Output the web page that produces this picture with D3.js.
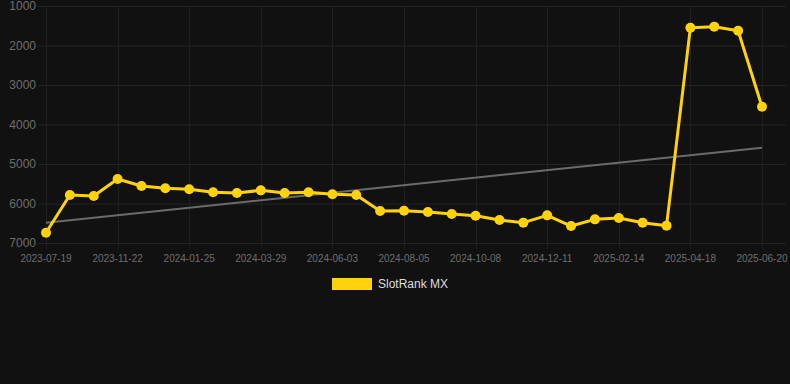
<!DOCTYPE html>
<html>
<head>
<meta charset="utf-8">
<script src="https://cdn.jsdelivr.net/npm/d3@7"></script>
<style>
  body { margin: 0; background: #111111; }
  svg { display: block; font-family: "Liberation Sans", Arial, sans-serif; }
</style>
</head>
<body>
<div id="plot"></div>
<script>
// dates on the x axis (only every third one is labelled, the rest are estimates)
var cats = ["2023-07-19","2023-08-10","2023-09-01","2023-11-22","2023-12-13","2024-01-04",
  "2024-01-25","2024-02-15","2024-03-08","2024-03-29","2024-04-19","2024-05-12",
  "2024-06-03","2024-06-24","2024-07-15","2024-08-05","2024-08-26","2024-09-16",
  "2024-10-08","2024-10-29","2024-11-19","2024-12-11","2025-01-01","2025-01-23",
  "2025-02-14","2025-03-07","2025-03-28","2025-04-18","2025-05-09","2025-05-30",
  "2025-06-20"];
// rank values
var ranks = [6740, 5785, 5810, 5380, 5557, 5616, 5641, 5717, 5734, 5667, 5734, 5717,
  5768, 5785, 6190, 6185, 6215, 6266, 6308, 6418, 6485, 6300, 6570, 6401, 6367,
  6485, 6561, 1549, 1523, 1625, 3549];
var yTicks = [1000, 2000, 3000, 4000, 5000, 6000, 7000];
var seriesName = "SlotRank MX";

var W = 790, H = 384;
var svg = d3.select("#plot").append("svg")
    .attr("width", W)
    .attr("height", H);

var xScale = d3.scalePoint().domain(cats).range([46, 762]);
var yScale = d3.scaleLinear().domain([1000, 7000]).range([6, 243]);

// horizontal grid
svg.append("g").selectAll("line")
    .data(yTicks).enter().append("line")
    .attr("x1", 38).attr("x2", 786)
    .attr("y1", function(d){ return yScale(d) + 0.5; })
    .attr("y2", function(d){ return yScale(d) + 0.5; })
    .attr("stroke", "#242424").attr("stroke-width", 1);

// vertical grid (labelled dates only)
var labelled = cats.filter(function(d, i){ return i % 3 == 0; });
svg.append("g").selectAll("line")
    .data(labelled).enter().append("line")
    .attr("x1", function(d){ return Math.round(xScale(d)) + 0.5; })
    .attr("x2", function(d){ return Math.round(xScale(d)) + 0.5; })
    .attr("y1", 6).attr("y2", 249)
    .attr("stroke", "#1f1f1f").attr("stroke-width", 1);

// y labels
svg.append("g").selectAll("text")
    .data(yTicks).enter().append("text")
    .attr("x", 36)
    .attr("y", function(d){ return yScale(d); })
    .attr("dy", "0.35em")
    .attr("text-anchor", "end")
    .attr("fill", "#6e6e6e")
    .style("font-size", "12px")
    .text(function(d){ return d; });

// x labels
svg.append("g").selectAll("text")
    .data(labelled).enter().append("text")
    .attr("x", function(d){ return xScale(d); })
    .attr("y", 262)
    .attr("text-anchor", "middle")
    .attr("fill", "#6e6e6e")
    .style("font-size", "10px")
    .text(function(d){ return d; });

// trend line (least squares)
var n = ranks.length, mx = (n - 1) / 2, my = d3.mean(ranks), sxy = 0, sxx = 0;
ranks.forEach(function(v, i){ sxy += (i - mx) * (v - my); sxx += (i - mx) * (i - mx); });
var slope = sxy / sxx, icpt = my - slope * mx;
svg.append("line")
    .attr("x1", xScale(cats[0])).attr("y1", yScale(icpt))
    .attr("x2", xScale(cats[n - 1])).attr("y2", yScale(icpt + slope * (n - 1)))
    .attr("stroke", "#6b6b6b").attr("stroke-width", 2);

// series
var line = d3.line()
    .x(function(d, i){ return xScale(cats[i]); })
    .y(function(d){ return yScale(d); });

svg.append("path")
    .datum(ranks)
    .attr("fill", "none")
    .attr("stroke", "#ffd20a")
    .attr("stroke-width", 3)
    .attr("stroke-linejoin", "round")
    .attr("d", line);

svg.append("g").selectAll("circle")
    .data(ranks).enter().append("circle")
    .attr("cx", function(d, i){ return xScale(cats[i]); })
    .attr("cy", function(d){ return yScale(d); })
    .attr("r", 5)
    .attr("fill", "#ffd20a");

// legend
svg.append("rect")
    .attr("x", 332).attr("y", 278)
    .attr("width", 40).attr("height", 12)
    .attr("fill", "#ffd20a");
svg.append("text")
    .attr("x", 378).attr("y", 284)
    .attr("dy", "0.35em")
    .attr("fill", "#dddddd")
    .style("font-size", "12px")
    .text(seriesName);
</script>
</body>
</html>
